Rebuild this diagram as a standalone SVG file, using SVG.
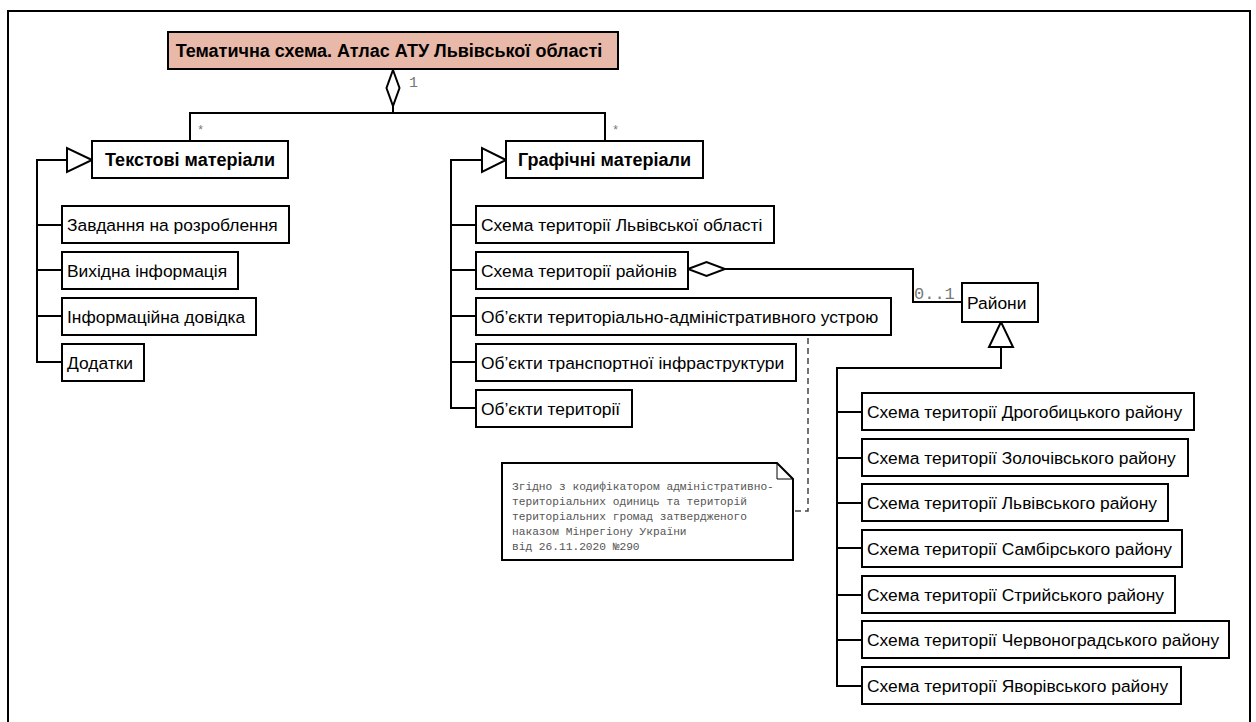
<svg xmlns="http://www.w3.org/2000/svg" width="1256" height="722" viewBox="0 0 1256 722">
  <style>
    .box { fill: #ffffff; stroke: #000000; stroke-width: 2; }
    .title { fill: #e8b8a8; stroke: #000000; stroke-width: 2; }
    .lbl { font-family: "Liberation Sans", Arial, sans-serif; font-size: 17.4px; fill: #000000; }
    .hdr { font-family: "Liberation Sans", Arial, sans-serif; font-size: 18px; font-weight: bold; fill: #000000; text-anchor: middle; }
    .mult { font-family: "Liberation Mono", "Courier New", monospace; fill: #777777; }
    .wire { fill: none; stroke: #000000; stroke-width: 2; }
    .tri { fill: #ffffff; stroke: #000000; stroke-width: 2; }
    .dash { fill: none; stroke: #444444; stroke-width: 1.5; stroke-dasharray: 6 4; }
    .note { fill: #ffffff; stroke: #000000; stroke-width: 2; }
    .notetxt { font-family: "Liberation Mono", "Courier New", monospace; font-size: 11.2px; fill: #555555; }
  </style>

  <rect x="0" y="0" width="1256" height="722" fill="#ffffff"/>
  <!-- outer frame -->
  <rect x="8" y="11" width="1242" height="760" fill="none" stroke="#000000" stroke-width="2"/>

  <!-- connectors -->
  <g id="connectors">
    <!-- aggregation: atlas -> two material groups -->
    <polyline class="wire" points="190,141 190,113 605,113 605,141"/>
    <line class="wire" x1="393" y1="105" x2="393" y2="113"/>
    <polygon class="tri" points="393,70 399.5,88 393,106 386.5,88"/>
    <text class="mult" x="409" y="87" font-size="15">1</text>
    <text class="mult" x="197" y="134" font-size="12">*</text>
    <text class="mult" x="612" y="134" font-size="12">*</text>

    <!-- text materials tree -->
    <polyline class="wire" points="67,160 37,160 37,362 62,362"/>
    <line class="wire" x1="37" y1="225" x2="62" y2="225"/>
    <line class="wire" x1="37" y1="270" x2="62" y2="270"/>
    <line class="wire" x1="37" y1="316" x2="62" y2="316"/>
    <polygon class="tri" points="92,160 67,148 67,172"/>

    <!-- graphic materials tree -->
    <polyline class="wire" points="482,160 451,160 451,408 476,408"/>
    <line class="wire" x1="451" y1="225" x2="476" y2="225"/>
    <line class="wire" x1="451" y1="270" x2="476" y2="270"/>
    <line class="wire" x1="451" y1="316" x2="476" y2="316"/>
    <line class="wire" x1="451" y1="362" x2="476" y2="362"/>
    <polygon class="tri" points="506,160 482,148 482,172"/>

    <!-- districts aggregation -->
    <polyline class="wire" points="725,269 913,269 913,302 962,302"/>
    <polygon class="tri" points="688,269 706.5,262 725,269 706.5,276"/>
    <text class="mult" x="914" y="299" font-size="17">0..1</text>

    <!-- districts tree -->
    <polyline class="wire" points="1001,347 1001,368 837,368 837,686 862,686"/>
    <line class="wire" x1="837" y1="412" x2="862" y2="412"/>
    <line class="wire" x1="837" y1="458" x2="862" y2="458"/>
    <line class="wire" x1="837" y1="503" x2="862" y2="503"/>
    <line class="wire" x1="837" y1="548" x2="862" y2="548"/>
    <line class="wire" x1="837" y1="595" x2="862" y2="595"/>
    <line class="wire" x1="837" y1="640" x2="862" y2="640"/>
    <polygon class="tri" points="1001,322 989,347 1013,347"/>

    <!-- note anchor -->
    <polyline class="dash" points="808,338 808,511 794,511"/>
  </g>

  <g id="atlas">
    <rect class="title" x="168" y="32" width="450" height="37"/>
    <text class="hdr" x="389" y="57">Тематична схема. Атлас АТУ Львівської області</text>
  </g>

  <g id="text-materials">
    <rect class="box" x="92" y="141" width="196" height="37"/>
    <text class="hdr" x="190" y="166">Текстові матеріали</text>
  </g>
  <g id="graphic-materials">
    <rect class="box" x="506" y="141" width="197" height="37"/>
    <text class="hdr" x="604.5" y="166">Графічні матеріали</text>
  </g>

  <g id="t1"><rect class="box" x="62" y="206" width="227" height="37"/><text class="lbl" x="67" y="231">Завдання на розроблення</text></g>
  <g id="t2"><rect class="box" x="62" y="252" width="176" height="37"/><text class="lbl" x="67" y="277">Вихідна інформація</text></g>
  <g id="t3"><rect class="box" x="62" y="298" width="194" height="37"/><text class="lbl" x="67" y="323">Інформаційна довідка</text></g>
  <g id="t4"><rect class="box" x="62" y="344" width="82" height="37"/><text class="lbl" x="67" y="369">Додатки</text></g>

  <g id="g1"><rect class="box" x="476" y="206" width="298" height="37"/><text class="lbl" x="481" y="231">Схема території Львівської області</text></g>
  <g id="g2"><rect class="box" x="476" y="252" width="212" height="37"/><text class="lbl" x="481" y="277">Схема території районів</text></g>
  <g id="g3"><rect class="box" x="476" y="298" width="415" height="37"/><text class="lbl" x="481" y="323">Об’єкти територіально-адміністративного устрою</text></g>
  <g id="g4"><rect class="box" x="476" y="344" width="320" height="37"/><text class="lbl" x="481" y="369">Об’єкти транспортної інфраструктури</text></g>
  <g id="g5"><rect class="box" x="476" y="390" width="156" height="37"/><text class="lbl" x="481" y="415">Об’єкти території</text></g>

  <g id="districts">
    <rect class="box" x="962" y="283" width="76" height="39"/>
    <text class="lbl" x="967" y="309">Райони</text>
  </g>

  <g id="d1"><rect class="box" x="862" y="393" width="332" height="37"/><text class="lbl" x="867" y="418">Схема території Дрогобицького району</text></g>
  <g id="d2"><rect class="box" x="862" y="439" width="326" height="37"/><text class="lbl" x="867" y="464">Схема території Золочівського району</text></g>
  <g id="d3"><rect class="box" x="862" y="484" width="306" height="37"/><text class="lbl" x="867" y="509">Схема території Львівського району</text></g>
  <g id="d4"><rect class="box" x="862" y="530" width="320" height="37"/><text class="lbl" x="867" y="555">Схема території Самбірського району</text></g>
  <g id="d5"><rect class="box" x="862" y="576" width="313" height="37"/><text class="lbl" x="867" y="601">Схема території Стрийського району</text></g>
  <g id="d6"><rect class="box" x="862" y="621" width="367" height="37"/><text class="lbl" x="867" y="646">Схема території Червоноградського району</text></g>
  <g id="d7"><rect class="box" x="862" y="667" width="319" height="37"/><text class="lbl" x="867" y="692">Схема території Яворівського району</text></g>

  <g id="note">
    <path class="note" d="M502,463 L777,463 L793,479 L793,560 L502,560 Z"/>
    <path fill="none" stroke="#000000" stroke-width="1" d="M777,463 L777,479 L793,479"/>
    <text class="notetxt">
      <tspan x="512" y="490">Згідно з кодифікатором адміністративно-</tspan>
      <tspan x="512" y="505">територіальних одиниць та територій</tspan>
      <tspan x="512" y="520">територіальних громад затвердженого</tspan>
      <tspan x="512" y="535">наказом Мінрегіону України</tspan>
      <tspan x="512" y="550">від 26.11.2020 №290</tspan>
    </text>
  </g>
</svg>
